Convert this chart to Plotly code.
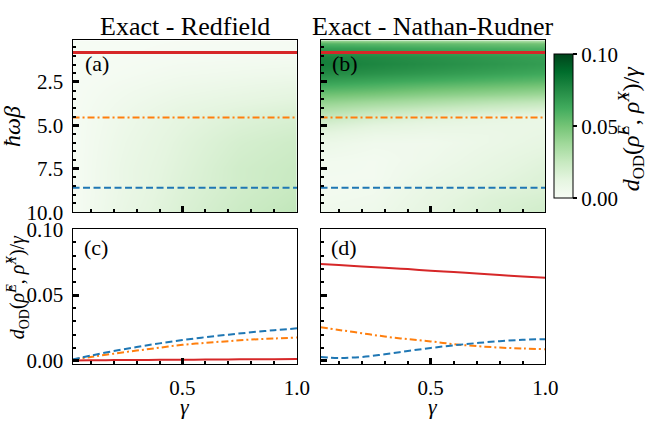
import plotly.graph_objects as go

# ---------------- data ----------------
gamma_cols = [0.02, 0.25, 0.5, 0.75, 1.0]

hwb_rows_a = [0.1, 0.8, 2.0, 3.0, 4.55, 6.0, 7.5, 8.6, 10.0]
z_redfield = [
    [0.0005, 0.0007, 0.0009, 0.0010, 0.0010],
    [0.0003, 0.0008, 0.0012, 0.0013, 0.0014],
    [0.0005, 0.0020, 0.0040, 0.0050, 0.0060],
    [0.0008, 0.0040, 0.0070, 0.0090, 0.0110],
    [0.0010, 0.0067, 0.0122, 0.0155, 0.0177],
    [0.0010, 0.0080, 0.0140, 0.0190, 0.0220],
    [0.0010, 0.0090, 0.0150, 0.0210, 0.0240],
    [0.0010, 0.0090, 0.0158, 0.0210, 0.0247],
    [0.0010, 0.0100, 0.0170, 0.0230, 0.0270],
]

hwb_rows_b = [0.1, 0.3, 0.55, 0.8, 1.1, 1.4, 1.7, 2.0, 2.4, 2.8, 3.2, 3.6,
              4.0, 4.55, 5.0, 5.5, 6.0, 7.0, 8.0, 8.6, 9.3, 10.0]
z_nathan = [
    [0.040, 0.038, 0.036, 0.034, 0.032],
    [0.058, 0.056, 0.054, 0.052, 0.050],
    [0.068, 0.066, 0.063, 0.061, 0.059],
    [0.0735, 0.071, 0.068, 0.0655, 0.063],
    [0.079, 0.076, 0.073, 0.070, 0.067],
    [0.080, 0.077, 0.074, 0.071, 0.068],
    [0.078, 0.075, 0.072, 0.069, 0.066],
    [0.075, 0.072, 0.069, 0.066, 0.063],
    [0.068, 0.065, 0.062, 0.059, 0.056],
    [0.060, 0.057, 0.053, 0.050, 0.047],
    [0.051, 0.048, 0.044, 0.041, 0.038],
    [0.042, 0.038, 0.034, 0.030, 0.027],
    [0.034, 0.029, 0.025, 0.021, 0.018],
    [0.0255, 0.019, 0.0148, 0.011, 0.0089],
    [0.018, 0.013, 0.010, 0.009, 0.009],
    [0.012, 0.008, 0.007, 0.008, 0.010],
    [0.008, 0.005, 0.005, 0.008, 0.011],
    [0.004, 0.003, 0.006, 0.010, 0.014],
    [0.003, 0.003, 0.008, 0.012, 0.016],
    [0.003, 0.004, 0.0098, 0.014, 0.0165],
    [0.004, 0.005, 0.011, 0.016, 0.019],
    [0.005, 0.006, 0.012, 0.017, 0.021],
]

cut_hwb = [0.8, 4.55, 8.6]          # red, orange, blue cuts
gamma_line = [0.02, 0.1, 0.2, 0.3, 0.4, 0.5, 0.6, 0.7, 0.8, 0.9, 1.0]

c_red = [0.0003, 0.0005, 0.0006, 0.0007, 0.0008, 0.0009, 0.0010, 0.0011, 0.0012, 0.0013, 0.0014]
c_orange = [0.0010, 0.0030, 0.0055, 0.0078, 0.0100, 0.0122, 0.0137, 0.0150, 0.0162, 0.0170, 0.0177]
c_blue = [0.0010, 0.0040, 0.0075, 0.0105, 0.0133, 0.0158, 0.0180, 0.0199, 0.0217, 0.0233, 0.0247]

d_red = [0.0735, 0.0727, 0.0717, 0.0707, 0.0697, 0.0684, 0.0674, 0.0663, 0.0652, 0.0641, 0.0632]
d_orange = [0.0255, 0.0235, 0.0210, 0.0185, 0.0165, 0.0148, 0.0127, 0.0112, 0.0101, 0.0094, 0.0089]
d_blue = [0.0030, 0.0022, 0.0030, 0.0050, 0.0075, 0.0098, 0.0118, 0.0135, 0.0150, 0.0160, 0.0165]

panel_titles = ["Exact - Redfield", "Exact - Nathan-Rudner"]
panel_labels = ["(a)", "(b)", "(c)", "(d)"]

# ---------------- style ----------------
W, H = 656, 430
FONT = "Liberation Serif, DejaVu Serif, Times New Roman, serif"
TICKSIZE = 21
cut_colors = ["#d62728", "#ff7f0e", "#1f77b4"]
cut_dash = ["solid", "7px,3px,2px,3px", "7px,3.5px"]
greens = [[0.0, "#f7fcf5"], [0.125, "#e5f5e0"], [0.25, "#c7e9c0"], [0.375, "#a1d99b"],
          [0.5, "#74c476"], [0.625, "#41ab5d"], [0.75, "#238b45"], [0.875, "#006d2c"],
          [1.0, "#00441b"]]


def px(x):
    return x / W


def py(y):
    return 1 - y / H


xa_dom = [px(74), px(303)]
xb_dom = [px(327), px(556.5)]
yt_dom = [py(212), py(30)]
yb_dom = [py(373), py(230)]

fig = go.Figure()

fig.add_trace(go.Heatmap(x=gamma_cols, y=hwb_rows_a, z=z_redfield, zmin=0, zmax=0.1,
                         colorscale=greens, zsmooth="best", showscale=False,
                         xaxis="x", yaxis="y", hoverinfo="skip"))
fig.add_trace(go.Heatmap(x=gamma_cols, y=hwb_rows_b, z=z_nathan, zmin=0, zmax=0.1,
                         colorscale=greens, zsmooth="best", showscale=True,
                         xaxis="x2", yaxis="y2", hoverinfo="skip",
                         colorbar=dict(thickness=19, lenmode="pixels", len=144,
                                       x=px(565.5), xanchor="left", xpad=0,
                                       y=py(121), yanchor="middle", ypad=0,
                                       outlinewidth=1, outlinecolor="black",
                                       ticks="outside", ticklen=4, tickwidth=1.5,
                                       tickcolor="black",
                                       tickvals=[0, 0.05, 0.1],
                                       ticktext=["0.00", "0.05", "0.10"],
                                       tickfont=dict(family=FONT, size=TICKSIZE, color="black"))))

for (xa, ya) in [("x", "y"), ("x2", "y2")]:
    for hv, col, dash in zip(cut_hwb, cut_colors, cut_dash):
        fig.add_trace(go.Scatter(x=[gamma_cols[0], gamma_cols[-1]], y=[hv, hv], mode="lines",
                                 line=dict(color=col, width=3 if dash == "solid" else 2, dash=dash),
                                 xaxis=xa, yaxis=ya, showlegend=False, hoverinfo="skip"))

for ys, col, dash in zip([c_red, c_orange, c_blue], cut_colors, cut_dash):
    fig.add_trace(go.Scatter(x=gamma_line, y=ys, mode="lines",
                             line=dict(color=col, width=2, dash=dash, shape="spline"),
                             xaxis="x3", yaxis="y3", showlegend=False, hoverinfo="skip"))
for ys, col, dash in zip([d_red, d_orange, d_blue], cut_colors, cut_dash):
    fig.add_trace(go.Scatter(x=gamma_line, y=ys, mode="lines",
                             line=dict(color=col, width=2, dash=dash, shape="spline"),
                             xaxis="x4", yaxis="y4", showlegend=False, hoverinfo="skip"))

common = dict(showline=True, linecolor="black", linewidth=1.2, mirror=True,
              ticks="inside", ticklen=6, tickwidth=2.5, tickcolor="black",
              showgrid=False, zeroline=False,
              tickfont=dict(family=FONT, size=TICKSIZE, color="black"))


def xax(dom, anchor, labels):
    return dict(common, domain=dom, anchor=anchor, range=[0.02, 1.0],
                tickmode="linear", tick0=0, dtick=0.5, tickformat=".1f",
                showticklabels=labels, ticklabelstandoff=5,
                minor=dict(dtick=0.1, tick0=0, ticks="inside", ticklen=3.5,
                           tickwidth=2, tickcolor="black", showgrid=False))


def yax_top(anchor, labels):
    return dict(common, domain=yt_dom, anchor=anchor, range=[10, 0.1],
                tickmode="linear", tick0=0, dtick=2.5, tickformat=".1f",
                showticklabels=labels, ticklabelstandoff=4,
                minor=dict(dtick=0.5, tick0=0, ticks="inside", ticklen=3.5,
                           tickwidth=2, tickcolor="black", showgrid=False))


def yax_bot(anchor, labels):
    return dict(common, domain=yb_dom, anchor=anchor, range=[-0.0025, 0.1],
                tickmode="linear", tick0=0, dtick=0.05, tickformat=".2f",
                showticklabels=labels, ticklabelstandoff=4,
                minor=dict(dtick=0.01, tick0=0, ticks="inside", ticklen=3.5,
                           tickwidth=2, tickcolor="black", showgrid=False))


fig.update_layout(
    width=W, height=H, margin=dict(l=0, r=0, t=0, b=0),
    paper_bgcolor="white", plot_bgcolor="white",
    font=dict(family=FONT, size=TICKSIZE, color="black"),
    showlegend=False,
    xaxis=xax(xa_dom, "y", False),
    yaxis=yax_top("x", True),
    xaxis2=xax(xb_dom, "y2", False),
    yaxis2=yax_top("x2", False),
    xaxis3=xax(xa_dom, "y3", True),
    yaxis3=yax_bot("x3", True),
    xaxis4=xax(xb_dom, "y4", True),
    yaxis4=yax_bot("x4", False),
)

ann = []
ann.append(dict(text=panel_titles[0], x=px(188.5), y=py(15), xref="paper", yref="paper",
                showarrow=False, font=dict(family=FONT, size=26), xanchor="center", yanchor="middle"))
ann.append(dict(text=panel_titles[1], x=px(441.5), y=py(15), xref="paper", yref="paper",
                showarrow=False, font=dict(family=FONT, size=26), xanchor="center", yanchor="middle"))
for lab, (x0, y0) in zip(panel_labels, [(99, 55), (352, 55), (98, 249), (351, 249)]):
    ann.append(dict(text=lab, x=px(x0), y=py(y0), xref="paper", yref="paper", showarrow=False,
                    font=dict(family=FONT, size=22), xanchor="center", yanchor="middle"))
ann.append(dict(text="<i>ħωβ</i>", x=px(13), y=py(121), xref="paper", yref="paper",
                showarrow=False, textangle=-90, font=dict(family=FONT, size=24),
                xanchor="center", yanchor="middle"))
for xc in [188.5, 441.5]:
    ann.append(dict(text="<i>γ</i>", x=px(xc), y=py(418), xref="paper", yref="paper",
                    showarrow=False, font=dict(family=FONT, size=22),
                    xanchor="center", yanchor="middle"))
dlabel = "<i>d</i><sub>OD</sub>(<i>ρ̂</i><sup><i>E</i></sup>, <i>ρ̂</i><sup><i>X</i></sup>)/<i>γ</i>"
ann.append(dict(text=dlabel, x=px(18), y=py(292), xref="paper", yref="paper",
                showarrow=False, textangle=-90, font=dict(family=FONT, size=20),
                xanchor="center", yanchor="middle"))
ann.append(dict(text=dlabel, x=px(644), y=py(124), xref="paper", yref="paper",
                showarrow=False, textangle=-90, font=dict(family=FONT, size=24),
                xanchor="center", yanchor="middle"))
fig.update_layout(annotations=ann)

fig.write_html("out.html")
